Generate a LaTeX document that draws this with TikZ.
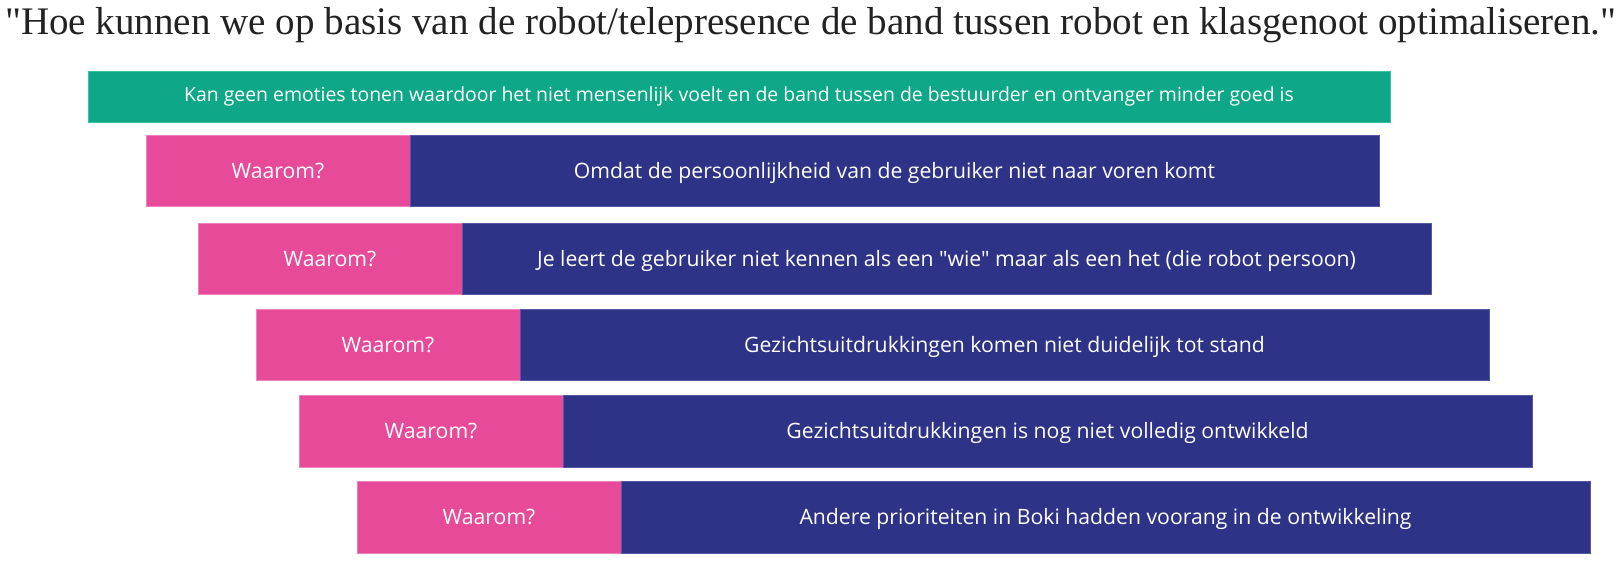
\documentclass[tikz,border=0pt]{standalone}
\usepackage{fontspec}
\newfontfamily\barfont{Open Sans}
\newfontfamily\titlefont{Liberation Serif}
\definecolor{pinkbar}{HTML}{E64A98}
\definecolor{pinkedge}{HTML}{EE82BC}
\definecolor{navybar}{HTML}{2E3388}
\definecolor{navyedge}{HTML}{5559A6}
\definecolor{greenbar}{HTML}{0EA888}
\definecolor{greenedge}{HTML}{3CC2A2}
\definecolor{titlegray}{HTML}{222222}
\tikzset{
  bar/.style={anchor=north west, inner sep=0pt, outer sep=0pt, line width=1pt,
    text=white, align=center, minimum height=71.5pt},
  whybox/.style={bar, fill=pinkbar, draw=pinkedge, minimum width=264pt,
    font=\barfont\fontsize{21.2pt}{25pt}\selectfont, text height=15pt, text depth=0pt},
  reasonbox/.style={bar, fill=navybar, draw=navyedge, minimum width=969pt,
    font=\barfont\fontsize{21.2pt}{25pt}\selectfont, text height=15pt, text depth=0pt},
  topbox/.style={bar, fill=greenbar, draw=greenedge, minimum width=1302pt,
    minimum height=51pt, font=\barfont\fontsize{19.4pt}{23pt}\selectfont,
    text height=10.8pt, text depth=0pt}
}
\begin{document}
\begin{tikzpicture}[x=1pt,y=-1pt]
\useasboundingbox (0,0) rectangle (1621,563);
\node[anchor=base west, inner sep=0pt, text=titlegray] (title) at (5,34.3)
  {\resizebox{1611pt}{!}{\titlefont\fontsize{36pt}{40pt}\selectfont "Hoe kunnen we op basis van de robot/telepresence de band tussen robot en klasgenoot optimaliseren."}};
\node[topbox] (g) at (88,71) {Kan geen emoties tonen waardoor het niet mensenlijk voelt en de band tussen de bestuurder en ontvanger minder goed is};
\node[whybox] (p1) at (146,135) {Waarom?};
\node[reasonbox] (d1) at (410,135) {Omdat de persoonlijkheid van de gebruiker niet naar voren komt};
\node[whybox] (p2) at (198,223) {Waarom?};
\node[reasonbox] (d2) at (462,223) {Je leert de gebruiker niet kennen als een "wie" maar als een het (die robot persoon)};
\node[whybox] (p3) at (256,309) {Waarom?};
\node[reasonbox] (d3) at (520,309) {Gezichtsuitdrukkingen komen niet duidelijk tot stand};
\node[whybox] (p4) at (299,395.5) {Waarom?};
\node[reasonbox] (d4) at (563,395.5) {Gezichtsuitdrukkingen is nog niet volledig ontwikkeld};
\node[whybox] (p5) at (357,481.5) {Waarom?};
\node[reasonbox] (d5) at (621,481.5) {Andere prioriteiten in Boki hadden voorang in de ontwikkeling};
\end{tikzpicture}
\end{document}
